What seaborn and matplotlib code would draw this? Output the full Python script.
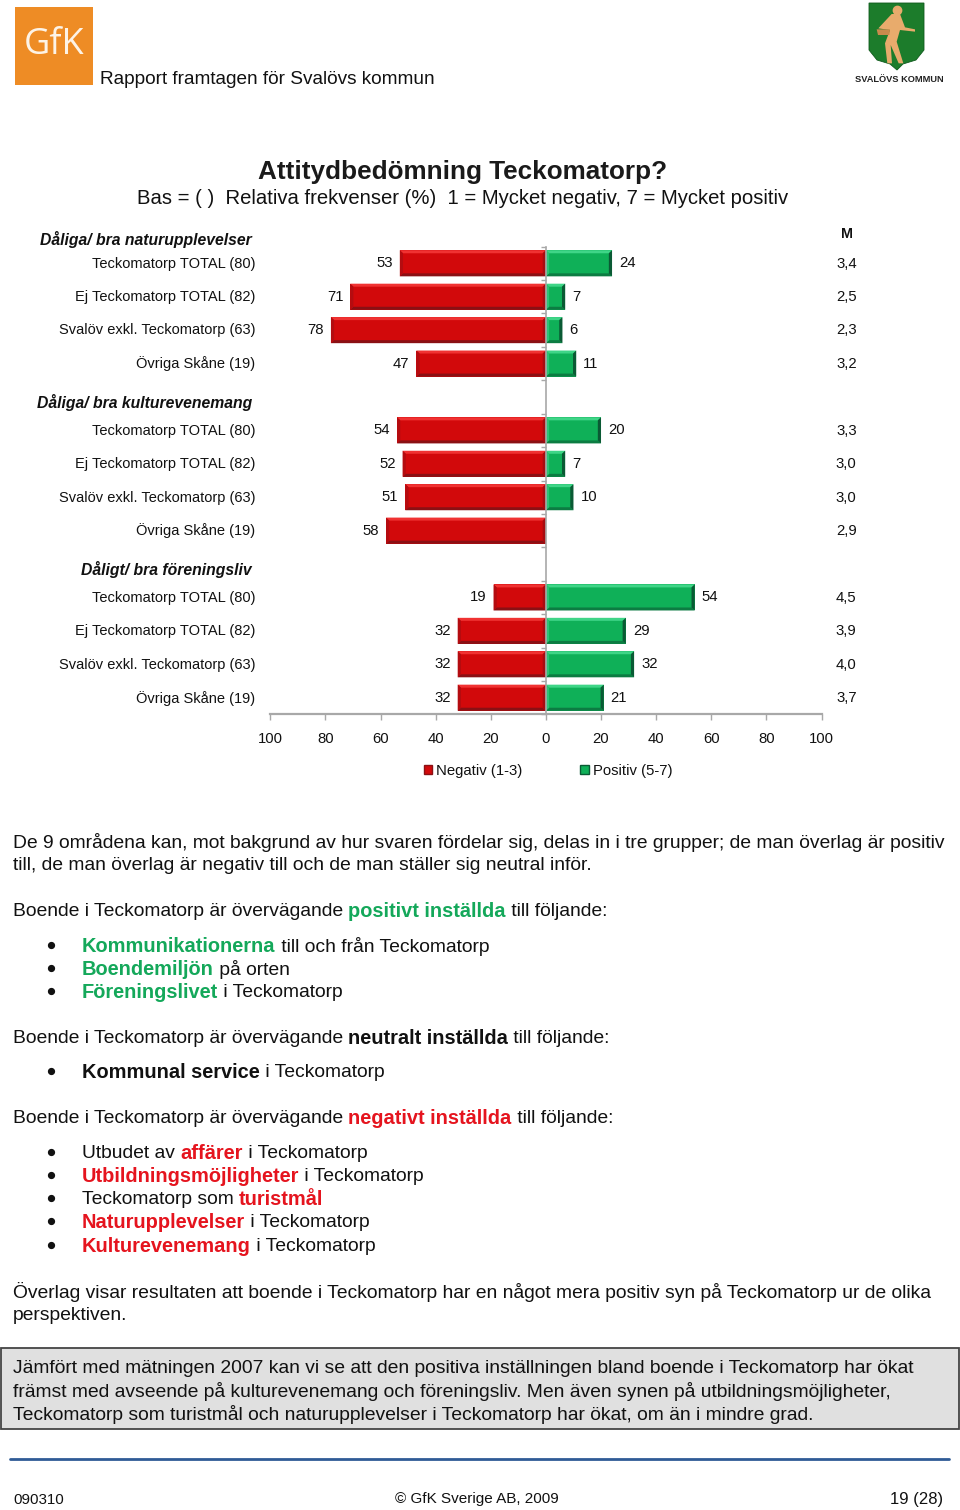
import numpy as np
import pandas as pd
import matplotlib
matplotlib.use("Agg")
import matplotlib.pyplot as plt
import seaborn as sns
from matplotlib.patches import Patch, Polygon, Rectangle

sns.set_theme(style="white")
plt.rcParams["font.family"] = ["Liberation Sans", "DejaVu Sans"]

# chart values, blank rows are the group headers
rows = list(range(14))
neg_rows = [0, 1, 2, 3, 5, 6, 7, 8, 10, 11, 12, 13]
neg_vals = [53, 71, 78, 47, 54, 52, 51, 58, 19, 32, 32, 32]
pos_rows = [0, 1, 2, 3, 5, 6, 7, 10, 11, 12, 13]
pos_vals = [24, 7, 6, 11, 20, 7, 10, 54, 29, 32, 21]
means = ["3,4", "2,5", "2,3", "3,2", "3,3", "3,0", "3,0", "2,9", "4,5", "3,9", "4,0", "3,7"]
row_names = ["Teckomatorp TOTAL (80)", "Ej Teckomatorp TOTAL (82)",
             "Svalöv exkl. Teckomatorp (63)", "Övriga Skåne (19)"] * 3
groups = ["Dåliga/ bra naturupplevelser", "Dåliga/ bra kulturevenemang", "Dåligt/ bra föreningsliv"]
group_y = [238, 401, 568]
x_ticks = [-100, -80, -60, -40, -20, 0, 20, 40, 60, 80, 100]
series = ["Negativ (1-3)", "Positiv (5-7)"]

df = pd.concat([
    pd.DataFrame({"row": neg_rows, "value": -np.array(neg_vals), "serie": series[0]}),
    pd.DataFrame({"row": pos_rows, "value": pos_vals, "serie": series[1]}),
])
df["row"] = df["row"].astype(str)

fig = plt.figure(figsize=(9.6, 15.1), dpi=100)
W, H = 960, 1510

# page in pixel coordinates
page = fig.add_axes([0, 0, 1, 1])
page.set_xlim(0, W); page.set_ylim(H, 0); page.axis("off")

# chart
L, R, T, B = 270.3, 821.5, 246.6, 714.4
ax = fig.add_axes([L / W, 1 - B / H, (R - L) / W, (B - T) / H])
ax.patch.set_alpha(0)
RED, GREEN = "#d2090b", "#0fb058"
sns.barplot(data=df, x="value", y="row", hue="serie", order=[str(r) for r in rows],
            hue_order=series, palette=[RED, GREEN], dodge=False, width=0.78, saturation=1,
            errorbar=None, orient="h", legend=False, ax=ax, linewidth=0)
ax.set_xlim(-100, 100); ax.set_ylim(13.5, -0.5)
ax.set_xlabel(""); ax.set_ylabel("")

GREY = "#a8a8a8"
for s in ["top", "right"]:
    ax.spines[s].set_visible(False)
ax.spines["left"].set_position(("data", 0))
ax.spines["left"].set_color(GREY); ax.spines["bottom"].set_color(GREY)
ax.spines["left"].set_linewidth(1.2); ax.spines["bottom"].set_linewidth(1.6)
ax.set_yticks(np.arange(-0.5, 14), labels=[""] * 15)
ax.set_xticks(x_ticks, labels=[str(abs(v)) for v in x_ticks])
ax.tick_params(axis="y", left=True, length=3.5, width=1, color=GREY)
ax.tick_params(axis="x", bottom=True, length=4, width=1, color=GREY, labelsize=10.7, pad=9, labelcolor="#111111")

# bevel on every bar
px_x, px_y = 200 / (R - L), 14 / (B - T)
bevels = [("#f03232", "#8a1014", "#b40c10", "#a80c10"), ("#3fd587", "#0c7c42", "#2cc476", "#0a5a34")]
for cont, (top, bot, lef, rig) in zip(ax.containers, bevels):
    for p in cont:
        bb = p.get_bbox()
        x0, x1 = min(bb.x0, bb.x1), max(bb.x0, bb.x1)
        y0, y1 = min(bb.y0, bb.y1), max(bb.y0, bb.y1)
        dx, dy = 3.2 * px_x, 3 * px_y
        ax.add_patch(Polygon([(x0, y0), (x1, y0), (x1 - dx, y0 + dy), (x0 + dx, y0 + dy)], fc=top, lw=0, zorder=2))
        ax.add_patch(Polygon([(x0, y1), (x1, y1), (x1 - dx, y1 - dy), (x0 + dx, y1 - dy)], fc=bot, lw=0, zorder=2))
        ax.add_patch(Polygon([(x0, y0), (x0 + dx, y0 + dy), (x0 + dx, y1 - dy), (x0, y1)], fc=lef, lw=0, zorder=2))
        ax.add_patch(Polygon([(x1, y0), (x1 - dx, y0 + dy), (x1 - dx, y1 - dy), (x1, y1)], fc=rig, lw=0, zorder=2))

ax.bar_label(ax.containers[0], labels=[str(v) for v in neg_vals], padding=5, fontsize=10.7, color="#111111")
ax.bar_label(ax.containers[1], labels=[str(v) for v in pos_vals], padding=5, fontsize=10.7, color="#111111")

for r, name, m in zip(neg_rows, row_names, means):
    ax.text(-105.5, r + 0.01, name, ha="right", va="center", fontsize=10.5, color="#111111", clip_on=False)
    ax.text(109, r + 0.01, m, ha="center", va="center", fontsize=10.7, color="#111111", clip_on=False)

handles = [Patch(fc=RED, ec="#8a1014", lw=1), Patch(fc=GREEN, ec="#0a5a34", lw=1)]
ax.legend(handles, series, ncol=2, frameon=False, fontsize=10.7, loc="center",
          bbox_to_anchor=((548 - L) / (R - L), -(771 - B) / (B - T)),
          handlelength=0.55, handleheight=0.55, handletextpad=0.3, columnspacing=3.9,
          labelcolor="#111111")


# text helpers
def put(x, y, t, size, color="#111111", weight="normal", style="normal", ha="left"):
    return page.text(x, y, t, fontsize=size, color=color, fontweight=weight, fontstyle=style,
                     ha=ha, va="center_baseline")


def rich(x, y, parts, size):
    # parts are (text, colour or None); coloured runs are bold and a little wider in the original
    rend = fig.canvas.get_renderer()
    for t, c in parts:
        tx = put(x, y - 0.7, t, size * 1.04 if c else size, color=c or "#111111", weight="bold" if c else "normal")
        x += tx.get_window_extent(rend).width


BODY = 13.85
G, N, K = "#14a85a", "#e5141e", "#111111"
lines = [
    (841, [("De 9 områdena kan, mot bakgrund av hur svaren fördelar sig, delas in i tre grupper; de man överlag är positiv", None)]),
    (864, [("till, de man överlag är negativ till och de man ställer sig neutral inför.", None)]),
    (910, [("Boende i Teckomatorp är övervägande ", None), ("positivt inställda", G), (" till följande:", None)]),
    (1037, [("Boende i Teckomatorp är övervägande ", None), ("neutralt inställda", K), (" till följande:", None)]),
    (1117, [("Boende i Teckomatorp är övervägande ", None), ("negativt inställda", N), (" till följande:", None)]),
    (1291, [("Överlag visar resultaten att boende i Teckomatorp har en något mera positiv syn på Teckomatorp ur de olika", None)]),
    (1314, [("perspektiven.", None)]),
    (1367, [("Jämfört med mätningen 2007 kan vi se att den positiva inställningen bland boende i Teckomatorp har ökat", None)]),
    (1390, [("främst med avseende på kulturevenemang och föreningsliv. Men även synen på utbildningsmöjligheter,", None)]),
    (1413, [("Teckomatorp som turistmål och naturupplevelser i Teckomatorp har ökat, om än i mindre grad.", None)]),
]
bullets = [
    (945, [("Kommunikationerna", G), (" till och från Teckomatorp", None)]),
    (968, [("Boendemiljön", G), (" på orten", None)]),
    (991, [("Föreningslivet", G), (" i Teckomatorp", None)]),
    (1071, [("Kommunal service", K), (" i Teckomatorp", None)]),
    (1152, [("Utbudet av ", None), ("affärer", N), (" i Teckomatorp", None)]),
    (1175, [("Utbildningsmöjligheter", N), (" i Teckomatorp", None)]),
    (1198, [("Teckomatorp som ", None), ("turistmål", N)]),
    (1221, [("Naturupplevelser", N), (" i Teckomatorp", None)]),
    (1245, [("Kulturevenemang", N), (" i Teckomatorp", None)]),
]

page.add_patch(Rectangle((1, 1348), 958, 81, fc="#e0e0e0", ec="#444444", lw=1.3))
for y, parts in lines:
    rich(13, y, parts, BODY)
for y, parts in bullets:
    page.plot([51], [y], "o", ms=4.2, color="#111111")
    rich(82, y, parts, BODY)

# heads
put(100, 78, "Rapport framtagen för Svalövs kommun", 13.7)
put(463, 170, "Attitydbedömning Teckomatorp?", 18.8, weight="bold", ha="center", color="#1a1a1a")
put(462.5, 197, "Bas = ( )  Relativa frekvenser (%)  1 = Mycket negativ, 7 = Mycket positiv", 14.6, ha="center")
for y, g in zip(group_y, groups):
    put(252, y, g, 11.35, weight="bold", style="italic", ha="right")
put(847.5, 232, "M", 10.4, weight="bold", ha="center")

# footer
page.plot([10, 949], [1458.5, 1458.5], color="#2f5b96", lw=2)
put(13, 1498, "090310", 10.9)
put(395, 1498, "© GfK Sverige AB, 2009", 10.95)
put(890, 1498, "19 (28)", 12)

# logos
page.add_patch(Rectangle((15, 7), 78, 78, fc="#ee8c25", lw=0))
page.text(54, 45, "GfK", fontsize=26, color="#fdf3e6", family="Open Sans", ha="center", va="center")
page.add_patch(Polygon([(869, 3), (924, 3), (924, 50), (916, 60), (903, 64), (897, 70), (890, 64),
                        (877, 60), (869, 50)], fc="#1c7c2b", ec="#0f5a1c", lw=0.6))
skin = "#e8ab6c"
def zoomed(pts):
    return [(850 + a / 3, b / 3) for a, b in pts]
page.add_patch(Polygon(zoomed([(125, 42), (150, 42), (165, 82), (195, 88), (195, 95), (150, 90), (140, 125),
                               (160, 190), (146, 190), (122, 135), (126, 190), (112, 190), (105, 130),
                               (120, 90), (85, 85)]), fc=skin, lw=0))
page.add_patch(Polygon(zoomed([(80, 88), (120, 88), (118, 105), (84, 105)]), fc="#c98a4c", lw=0))
page.plot([850 + 140 / 3], [10], "o", ms=6, color=skin)
put(899, 78.5, "SVALÖVS KOMMUN", 6.65, weight="bold", ha="center", color="#222222")

plt.savefig("out.png", dpi=100)
plt.close()
